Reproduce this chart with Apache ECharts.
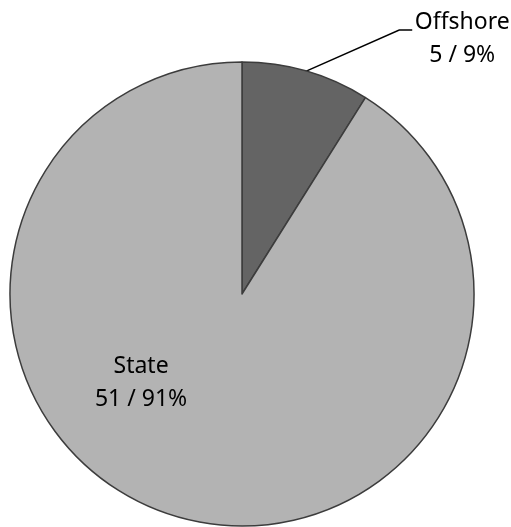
<!DOCTYPE html>
<html>
<head>
<meta charset="utf-8">
<script src="https://cdn.jsdelivr.net/npm/echarts@6/dist/echarts.min.js"></script>
<style>
html,body{margin:0;padding:0;background:#fff;}
#c{width:511px;height:527px;}
</style>
</head>
<body>
<div id="c"></div>
<script>
const categories = ['Offshore', 'State'];
const values = [5, 51];
const percents = ['9%', '91%'];
const colors = ['#646464', '#b3b3b3'];

const chart = echarts.init(document.getElementById('c'));
const data = categories.map((name, i) => ({
  name: name,
  value: values[i],
  itemStyle: { color: colors[i] },
  label: i === 0
    ? { position: 'outside' }
    : { position: 'inside', offset: [-68, -25] },
  labelLine: { show: i === 0 }
}));

chart.setOption({
  animation: false,
  series: [{
    type: 'pie',
    center: [242, 294],
    radius: 232,
    startAngle: 90,
    clockwise: true,
    itemStyle: { borderColor: '#3c3c3c', borderWidth: 1.5 },
    label: {
      formatter: p => p.name + '\n' + values[p.dataIndex] + ' / ' + percents[p.dataIndex],
      fontFamily: 'Noto Sans',
      fontSize: 23,
      lineHeight: 33,
      color: '#000',
      align: 'center'
    },
    labelLine: { lineStyle: { color: '#000', width: 1.5 } },
    labelLayout: function (params) {
      if (params.dataIndex !== 0) return {};
      const s = params.labelLinePoints[0];
      return {
        x: s[0] + 156,
        y: s[1] - 32,
        align: 'center',
        verticalAlign: 'middle',
        labelLinePoints: [s, [s[0] + 93, s[1] - 41], [s[0] + 106, s[1] - 41]]
      };
    },
    data: data
  }]
});
</script>
</body>
</html>
